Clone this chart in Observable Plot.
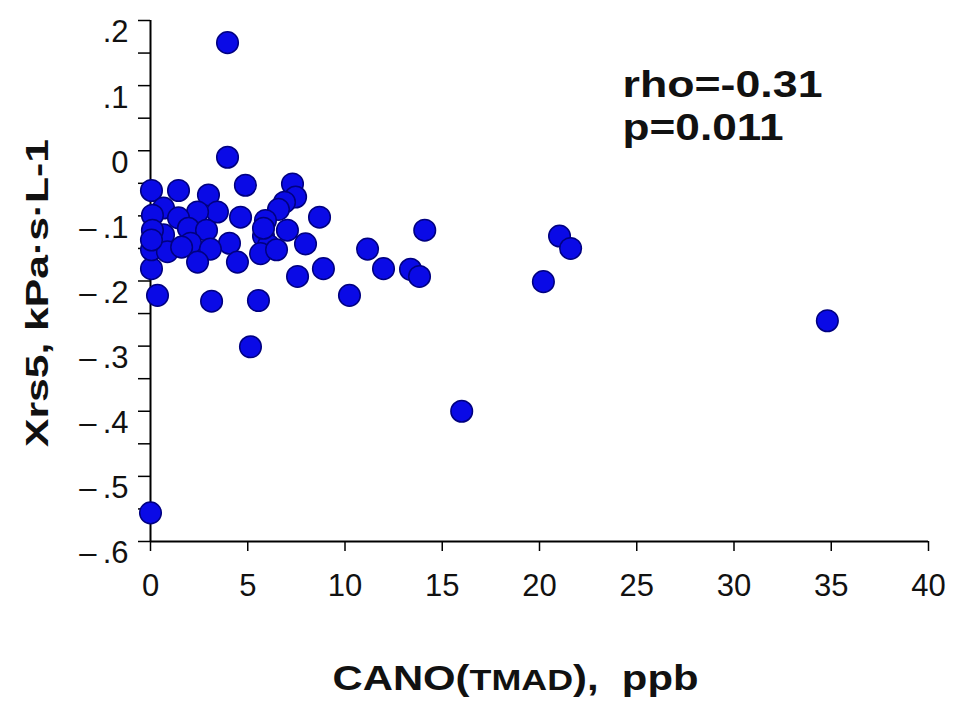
<!DOCTYPE html>
<html>
<head>
<meta charset="utf-8">
<script src="https://cdn.jsdelivr.net/npm/d3@7"></script>
<script src="https://cdn.jsdelivr.net/npm/@observablehq/plot@0.6"></script>
<style>
  html, body { margin: 0; padding: 0; background: #fff; }
  svg { display: block; }
</style>
</head>
<body>
<div id="chart"></div>
<script>
// CANO (ppb)
const cano = [3.96,3.96,4.88,0,10.23,16.0,34.8,20.2,21.03,21.6,14.1,13.37,13.83,11.98,11.16,5.14,3.14,5.55,0.36,0.05,
  0.05,1.44,2.98,7.3,7.46,8.69,7.97,8.89,7.56,4.63,4.06,4.47,6.89,6.58,5.91,3.44,2.42,0.67,0.1,1.44,
  1.95,2.88,0.67,0.1,7.04,5.81,6.07,2.06,3.08,0.05,0.87,5.66,6.48,2.42,0.05,5.81,1.6];
// Xrs5 (kPa·s·L-1)
const xrs5 = [0.166,-0.010,-0.053,-0.556,-0.222,-0.400,-0.261,-0.201,-0.131,-0.150,-0.122,-0.182,-0.193,-0.181,-0.151,-0.301,-0.231,-0.230,-0.222,-0.181,
  -0.061,-0.061,-0.068,-0.051,-0.071,-0.102,-0.143,-0.181,-0.193,-0.102,-0.142,-0.171,-0.079,-0.090,-0.107,-0.094,-0.094,-0.088,-0.099,-0.103,
  -0.119,-0.122,-0.129,-0.122,-0.122,-0.131,-0.145,-0.142,-0.151,-0.152,-0.155,-0.158,-0.152,-0.171,-0.137,-0.119,-0.148];

const xDomain = [0, 40];
const yDomain = [-0.6, 0.2];
const xTicks = [0, 5, 10, 15, 20, 25, 30, 35, 40];
const yTicks = [-0.6, -0.5, -0.4, -0.3, -0.2, -0.1, 0, 0.1, 0.2];
const yMinorTicks = [-0.6,-0.55,-0.5,-0.45,-0.4,-0.35,-0.3,-0.25,-0.2,-0.15,-0.1,-0.05,0,0.05,0.1,0.15,0.2];
const xLabel = "CANO(TMAD), ppb";
const yLabel = "Xrs5, kPa·s·L-1";
const statLines = ["rho=-0.31", "p=0.011"];

const points = cano.map((c, i) => ({x: c, y: xrs5[i]}));

const yFmt = d => {
  const r = Math.round(d * 10) / 10;
  if (r === 0) return "0";
  const s = d3.format(".1f")(Math.abs(r)).replace(/^0/, "");
  return r < 0 ? "\u2013\u2009" + s : s;
};

const font = "'Liberation Sans', Arial, Helvetica, sans-serif";

const chart = Plot.plot({
  width: 954,
  height: 707,
  marginLeft: 150,
  marginRight: 26,
  marginTop: 20,
  marginBottom: 166,
  style: {background: "#fff", color: "#000", fontFamily: font},
  x: {domain: xDomain, axis: null},
  y: {domain: yDomain, axis: null},
  marks: [
    // axis lines
    Plot.ruleX([xDomain[0]], {y1: yDomain[0], y2: yDomain[1], stroke: "#000", strokeWidth: 2}),
    Plot.ruleY([yDomain[0]], {x1: xDomain[0], x2: xDomain[1], stroke: "#000", strokeWidth: 2}),
    // y ticks (major + minor)
    Plot.axisY({ticks: yMinorTicks, tickSize: 12, tickFormat: () => "", label: null, strokeWidth: 1.5}),
    // y tick labels
    Plot.axisY({ticks: yTicks, tickSize: 0, tickPadding: 22, dy: 12, tickFormat: yFmt, label: null, fontSize: 31, fill: "#111"}),
    // x axis
    Plot.axisX({ticks: xTicks, tickSize: 10, tickPadding: 22, label: null, fontSize: 31, strokeWidth: 1.5, fill: "#111"}),
    // data
    Plot.dot(points, {x: "x", y: "y", r: 10.8, fill: "#0a0ae6", stroke: "#000080", strokeWidth: 1.5}),
    // annotation
    Plot.text([statLines[0]], {frameAnchor: "top-left", text: d => d, textAnchor: "start", lineAnchor: "top",
      dx: 472, dy: 51, fontSize: 36, fontWeight: "bold", fill: "#111", className: "stat1"}),
    Plot.text([statLines[1]], {frameAnchor: "top-left", text: d => d, textAnchor: "start", lineAnchor: "top",
      dx: 472, dy: 94, fontSize: 36, fontWeight: "bold", fill: "#111", className: "stat2"}),
    // axis titles
    Plot.text([xLabel], {frameAnchor: "bottom", text: d => d, textAnchor: "middle", lineAnchor: "top",
      dx: -24, dy: 124, fontSize: 35, fontWeight: "bold", fill: "#111", className: "xlabel"}),
    Plot.text([yLabel], {frameAnchor: "left", text: d => d, textAnchor: "middle", lineAnchor: "middle",
      rotate: -90, dx: -113, dy: 12, fontSize: 32, fontWeight: "bold", fill: "#111", className: "ylabel"})
  ]
});

document.getElementById("chart").appendChild(chart);

// stretch texts horizontally to match the reference's wide lettering
const svg = d3.select(chart);
const stretch = (cls, len) => svg.selectAll(`g.${cls} text`)
  .attr("textLength", len).attr("lengthAdjust", "spacingAndGlyphs");
stretch("stat1", 200);
stretch("stat2", 161);
stretch("ylabel", 308);
// x label: smaller "TMAD"
svg.selectAll("g.xlabel text").each(function() {
  const t = d3.select(this);
  t.text(null);
  t.append("tspan").text("CANO(");
  t.append("tspan").attr("font-size", 30).text("TMAD");
  t.append("tspan").text("),  ppb");
  t.attr("textLength", 366).attr("lengthAdjust", "spacingAndGlyphs");
});
</script>
</body>
</html>
